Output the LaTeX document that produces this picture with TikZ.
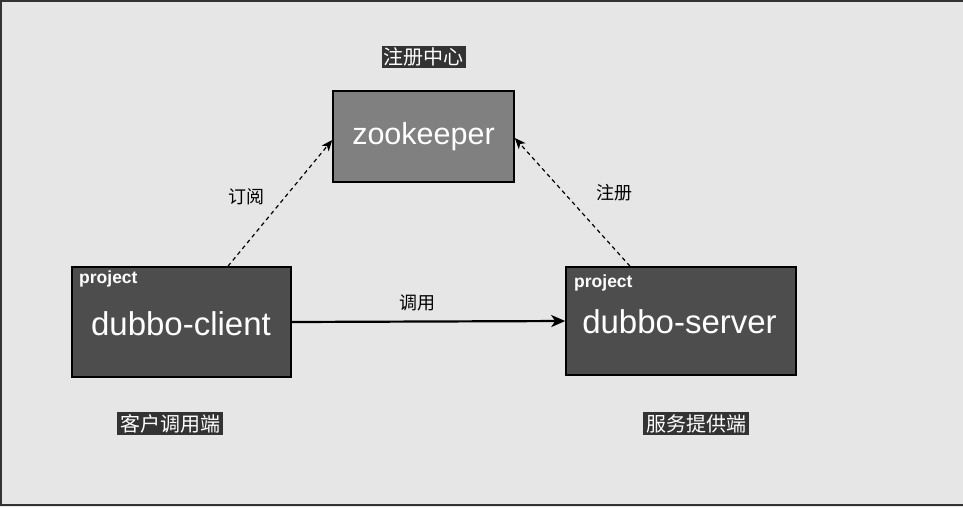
\documentclass[tikz,border=0pt]{standalone}
\usepackage{fontspec}
\setmainfont{Liberation Sans}
\newfontfamily\cjk{Noto Sans CJK SC}
\usetikzlibrary{arrows.meta,calc}
\definecolor{bg}{HTML}{E6E6E6}
\definecolor{frame}{HTML}{333333}
\definecolor{zkfill}{HTML}{808080}
\definecolor{projfill}{HTML}{4D4D4D}
\definecolor{tagfill}{HTML}{333333}
\tikzset{
  zkbox/.style={draw=black, line width=1.6pt, fill=zkfill, text=white, inner sep=0pt,
    minimum width=181pt, minimum height=91pt, font=\fontsize{30.5}{33}\selectfont},
  projbox/.style={draw=black, line width=1.6pt, fill=projfill, inner sep=0pt},
  projname/.style={text=white, inner sep=0pt, font=\fontsize{33}{36}\selectfont},
  projtag/.style={text=white, inner sep=0pt, anchor=west, font=\fontsize{17.5}{19}\selectfont\bfseries},
  darktag/.style={fill=tagfill, text=white, inner sep=2pt, font=\cjk\fontsize{20}{22}\selectfont},
  plainlabel/.style={text=black, inner sep=0pt, font=\cjk\fontsize{18}{20}\selectfont},
  dasharrow/.style={draw=black, line width=1.2pt, dash pattern=on 4pt off 3.5pt,
    -{Stealth[length=11pt,width=9pt,inset=3pt]}},
  solidarrow/.style={draw=black, line width=2.2pt,
    -{Stealth[length=14pt,width=12pt,inset=4pt]}}
}
\begin{document}
\begin{tikzpicture}[x=1pt,y=-1pt]
\useasboundingbox (0,0) rectangle (963,507);
\fill[bg] (0,0) rectangle (963,507);
\draw[frame, line width=2pt] (965,1) -- (1,1) -- (1,505) -- (965,505);

% main boxes
\node[zkbox] (zk) at (423.5,136.5) {zookeeper};
\node[projbox, minimum width=219pt, minimum height=110pt] (client) at (181.5,322) {};
\node[projbox, minimum width=230pt, minimum height=108pt] (server) at (681,321) {};

\node[projname] (clientname) at (181,324) {dubbo-client};
\node[projname] (servername) at (679.5,322) {dubbo-server};
\node[projtag] (clienttag) at (79,279) {project};
\node[projtag] (servertag) at (574,283) {project};

% dark labels
\node[darktag] (regc) at (423.5,57) {注册中心};
\node[darktag, inner xsep=3pt] (clientlbl) at (170,423.5) {客户调用端};
\node[darktag, inner xsep=3pt] (serverlbl) at (696,423.5) {服务提供端};

% connectors
\draw[dasharrow] ([xshift=46.5pt]client.north) -- ([yshift=-3.5pt]zk.west);
\draw[dasharrow] ([xshift=-51pt]server.north) -- ([yshift=-1.5pt]zk.east);
\draw[solidarrow] (client.east) -- (server.west);

% connector labels
\node[plainlabel] (sub) at (246,197) {订阅};
\node[plainlabel] (reg) at (614,193) {注册};
\node[plainlabel] (call) at (417,303) {调用};
\end{tikzpicture}
\end{document}
